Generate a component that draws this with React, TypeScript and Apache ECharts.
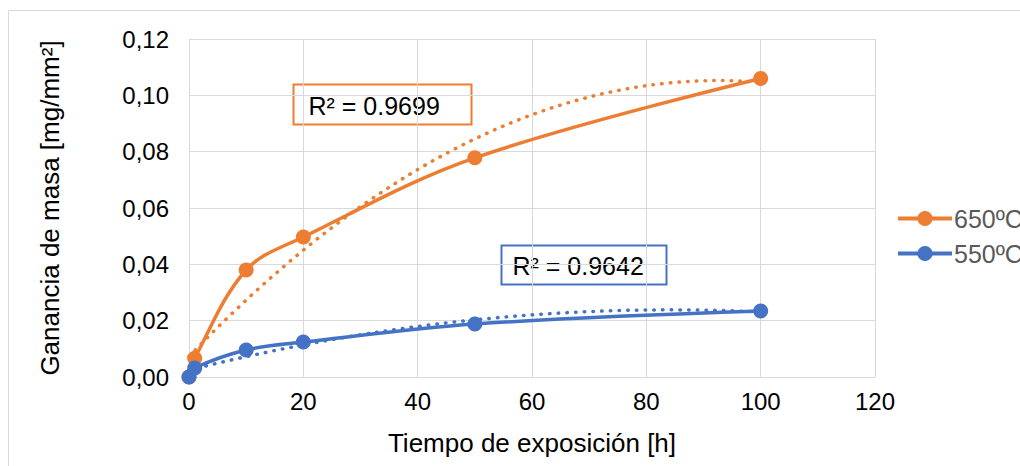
import React, { useEffect, useRef } from 'react';
import * as echarts from 'echarts';

const hours = [0, 1, 10, 20, 50, 100];
const gain650 = [0, 0.0067, 0.038, 0.0497, 0.0778, 0.106];
const gain550 = [0, 0.0032, 0.0096, 0.0124, 0.0188, 0.0234];
const seriesNames = ['650ºC', '550ºC'];
const seriesColors = ['#ED7D31', '#4472C4'];
const r2Labels = ['R² = 0.9699', 'R² = 0.9642'];
const xAxisTitle = 'Tiempo de exposición [h]';
const yAxisTitle = 'Ganancia de masa [mg/mm²]';

const FONT = '"Liberation Sans", Arial, sans-serif';

// least-squares polynomial (order 2) trendline, as the spreadsheet computes it
function quadFit(xs: number[], ys: number[]): number[] {
  const S: number[][] = [0, 1, 2].map((i) => [0, 1, 2].map((j) => xs.reduce((s, x) => s + Math.pow(x, i + j), 0)));
  const T: number[] = [0, 1, 2].map((i) => xs.reduce((s, x, k) => s + Math.pow(x, i) * ys[k], 0));
  const M = S.map((row, i) => [...row, T[i]]);
  for (let c = 0; c < 3; c++) {
    let p = c;
    for (let r = c + 1; r < 3; r++) if (Math.abs(M[r][c]) > Math.abs(M[p][c])) p = r;
    [M[c], M[p]] = [M[p], M[c]];
    for (let r = 0; r < 3; r++) {
      if (r === c) continue;
      const f = M[r][c] / M[c][c];
      for (let k = c; k < 4; k++) M[r][k] -= f * M[c][k];
    }
  }
  return [M[0][3] / M[0][0], M[1][3] / M[1][1], M[2][3] / M[2][2]];
}

function trendPoints(xs: number[], ys: number[]): number[][] {
  const [a, b, c] = quadFit(xs, ys);
  const lo = Math.min(...xs);
  const hi = Math.max(...xs);
  const pts: number[][] = [];
  for (let x = lo; x <= hi + 1e-9; x += 0.5) pts.push([x, a + b * x + c * x * x]);
  return pts;
}

export default function App() {
  const ref = useRef<HTMLDivElement>(null);
  useEffect(() => {
    if (!ref.current) return;
    const chart = echarts.init(ref.current, null, { renderer: 'svg' });
    const allY = [gain650, gain550];
    const trendSeries = allY.map((ys, i) => ({
      name: seriesNames[i] + ' trend',
      type: 'line',
      data: trendPoints(hours, ys),
      showSymbol: false,
      symbol: 'none',
      smooth: false,
      lineStyle: { color: seriesColors[i], width: 3.5, type: [0.5, 8.2], cap: 'round' },
      z: 2,
      silent: true,
    }));
    const dataSeries = allY.map((ys, i) => ({
      name: seriesNames[i],
      type: 'line',
      data: hours.map((h, k) => [h, ys[k]]),
      smooth: 0.35,
      symbol: 'circle',
      symbolSize: 15,
      itemStyle: { color: seriesColors[i] },
      lineStyle: { color: seriesColors[i], width: 3.5 },
      z: 3 + i,
    }));
    chart.setOption({
      animation: false,
      backgroundColor: '#fff',
      textStyle: { fontFamily: FONT },
      grid: { left: 189, right: 145, top: 39, bottom: 89, containLabel: false },
      legend: {
        data: seriesNames.map((n, i) => ({
          name: n,
          itemStyle: { color: seriesColors[i] },
          lineStyle: { color: seriesColors[i], width: 4 },
        })),
        orient: 'vertical',
        left: 891,
        top: 201,
        itemWidth: 54,
        itemHeight: 19,
        itemGap: 10,
        textStyle: { color: '#595959', fontSize: 25, fontFamily: FONT, padding: [0, 0, 0, -3] },
      },
      xAxis: {
        type: 'value',
        min: 0,
        max: 120,
        interval: 20,
        name: xAxisTitle,
        nameLocation: 'middle',
        nameGap: 53,
        nameTextStyle: { color: '#000', fontSize: 26, fontFamily: FONT },
        axisLine: { show: true, lineStyle: { color: '#D9D9D9', width: 1 } },
        axisTick: { show: false },
        axisLabel: { color: '#000', fontSize: 24, fontFamily: FONT, margin: 12 },
        splitLine: { show: true, lineStyle: { color: '#D9D9D9', width: 1 } },
      },
      yAxis: {
        type: 'value',
        min: 0,
        max: 0.12,
        interval: 0.02,
        name: yAxisTitle,
        nameLocation: 'middle',
        nameGap: 126,
        nameTextStyle: { color: '#000', fontSize: 26, fontFamily: FONT },
        axisLine: { show: true, lineStyle: { color: '#D9D9D9', width: 1 } },
        axisTick: { show: false },
        axisLabel: {
          color: '#000',
          fontSize: 24,
          fontFamily: FONT,
          margin: 20,
          formatter: (v: number) => v.toFixed(2).replace('.', ','),
        },
        splitLine: { show: true, lineStyle: { color: '#D9D9D9', width: 1 } },
      },
      graphic: [
        {
          type: 'rect',
          left: 6,
          top: 8,
          shape: { width: 1100, height: 600 },
          style: { fill: 'none', stroke: '#D9D9D9', lineWidth: 1 },
          silent: true,
          z: -10,
        },
        {
          type: 'group',
          left: 291,
          top: 82,
          children: [
            { type: 'rect', shape: { x: 0, y: 0, width: 178, height: 40 }, style: { fill: 'none', stroke: seriesColors[0], lineWidth: 2 } },
            { type: 'text', x: 15, y: 21, style: { text: r2Labels[0], fill: '#000', font: '25px ' + FONT, verticalAlign: 'middle' } },
          ],
          z: 10,
        },
        {
          type: 'group',
          left: 499,
          top: 243,
          children: [
            { type: 'rect', shape: { x: 0, y: 0, width: 165, height: 39 }, style: { fill: 'none', stroke: seriesColors[1], lineWidth: 2 } },
            { type: 'text', x: 11, y: 20, style: { text: r2Labels[1], fill: '#000', font: '25px ' + FONT, verticalAlign: 'middle' } },
          ],
          z: 10,
        },
      ],
      series: [...trendSeries, ...dataSeries],
    });
    return () => chart.dispose();
  }, []);
  return <div ref={ref} style={{ position: 'fixed', left: 0, top: 0, width: 1020, height: 466 }} />;
}
